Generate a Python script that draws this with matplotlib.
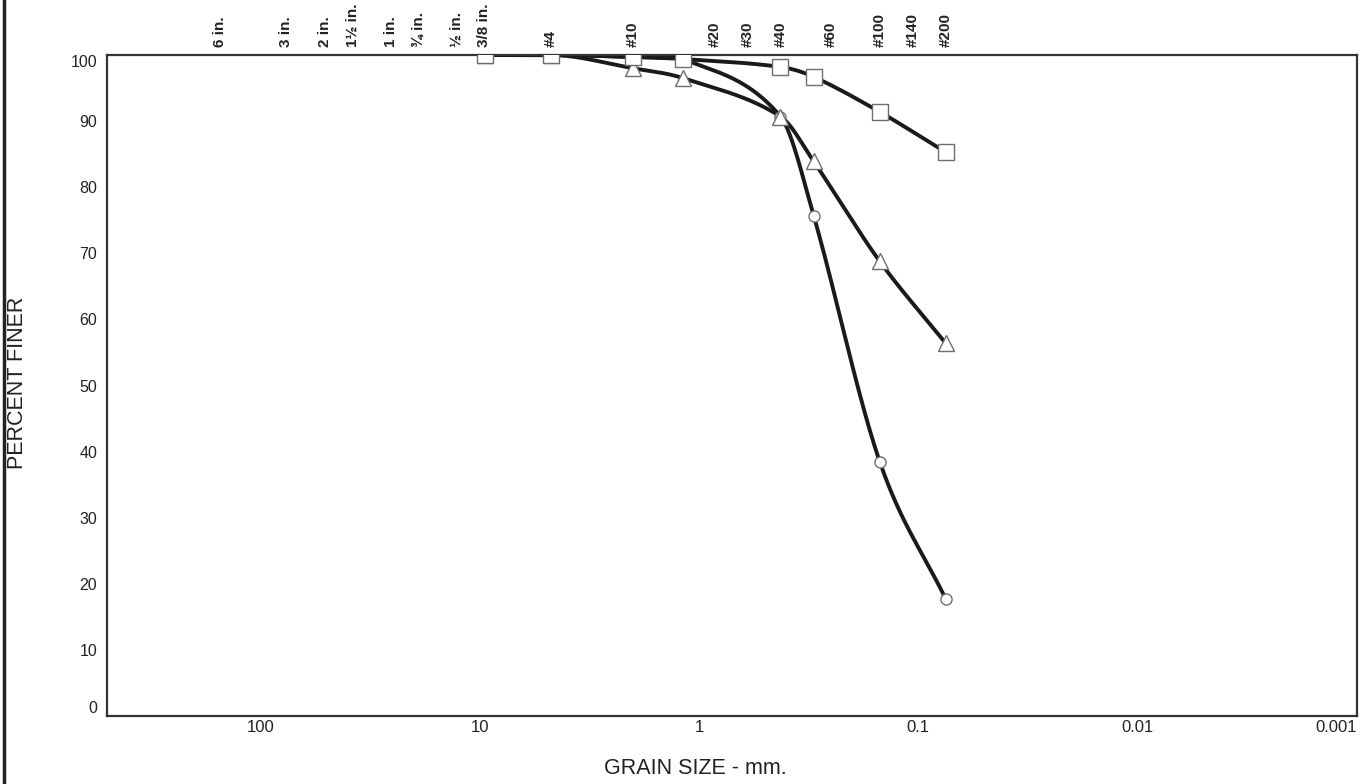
"""
Curva granulométrica (percentual passante x diâmetro dos grãos) de três amostras.
"""
import matplotlib.pyplot as plt
import numpy as np
from matplotlib.lines import Line2D

# Aberturas das peneiras (mm) e percentual passante de cada amostra
diametro = [9.5, 4.75, 2.0, 1.18, 0.425, 0.3, 0.15, 0.075]
passante_quadrado = [100.0, 100.0, 99.7, 99.4, 98.2, 96.7, 91.4, 85.3]
passante_triangulo = [100.0, 100.0, 98.0, 96.5, 90.7, 83.9, 68.8, 56.4]
passante_circulo = [100.0, 100.0, 99.7, 99.4, 90.7, 75.7, 38.5, 17.7]

# Peneiras indicadas no topo do gráfico
peneira_nome = ["6 in.", "3 in.", "2 in.", "1½ in.", "1 in.", "¾ in.", "½ in.",
                "3/8 in.", "#4", "#10", "#20", "#30", "#40", "#60", "#100",
                "#140", "#200"]
peneira_mm = [152.4, 76.2, 50.8, 38.1, 25.4, 19.05, 12.7, 9.525, 4.75, 2.0,
              0.85, 0.6, 0.425, 0.25, 0.15, 0.106, 0.075]

x_ticks = [100, 10, 1, 0.1, 0.01, 0.001]
x_ticklabels = ["100", "10", "1", "0.1", "0.01", "0.001"]
y_ticks = list(range(0, 101, 10))

FONTE = ["Liberation Sans", "DejaVu Sans"]
COR_TEXTO = "#222222"


def suaviza(x, y, xs):
    """Spline cúbica de Hermite com tangentes por diferença central."""
    x = np.asarray(x, float)
    y = np.asarray(y, float)
    h = np.diff(x)
    d = np.diff(y) / h
    n = len(x)
    m = np.zeros(n)
    m[0], m[-1] = d[0], d[-1]
    for k in range(1, n - 1):
        if d[k - 1] * d[k] > 0:
            m[k] = (y[k + 1] - y[k - 1]) / (x[k + 1] - x[k - 1])
    idx = np.clip(np.searchsorted(x, xs) - 1, 0, n - 2)
    t = (xs - x[idx]) / h[idx]
    h00 = 2 * t**3 - 3 * t**2 + 1
    h10 = t**3 - 2 * t**2 + t
    h01 = -2 * t**3 + 3 * t**2
    h11 = t**3 - t**2
    ys = (h00 * y[idx] + h10 * h[idx] * m[idx]
          + h01 * y[idx + 1] + h11 * h[idx] * m[idx + 1])
    return np.minimum(ys, 100.0)


fig = plt.figure(figsize=(13.69, 7.84), dpi=100)
ax = fig.add_axes([0.0782, 0.0867, 0.9130, 0.8431])
ax.set_xscale("log")
ax.set_xlim(500, 0.001)
ax.set_ylim(0, 100)

series = [
    (passante_circulo, "o", 8),
    (passante_triangulo, "^", 11),
    (passante_quadrado, "s", 11),
]

# linhas primeiro, marcadores por cima (quadrados no topo)
u = -np.log10(diametro)
us = np.linspace(u[0], u[-1], 400)
for dados, _, _ in series:
    ax.plot(10 ** (-us), suaviza(u, dados, us), color="#1a1a1a", lw=2.8,
            solid_capstyle="round", zorder=2)
for i, (dados, marcador, tam) in enumerate(series):
    ax.plot(diametro, dados, linestyle="none", marker=marcador, ms=tam,
            mfc="white", mec="#6e6e6e", mew=1.0, zorder=3 + i)

for lado in ax.spines.values():
    lado.set_color("#333333")
    lado.set_linewidth(1.6)

ax.tick_params(length=0)
ax.tick_params(axis="x", pad=3)
ax.tick_params(axis="y", pad=7)
ax.minorticks_off()
ax.set_xticks(x_ticks)
ax.set_xticklabels(x_ticklabels, fontsize=12, family=FONTE, color=COR_TEXTO)
ax.get_xticklabels()[-1].set_ha("right")
ax.set_yticks(y_ticks)
ax.set_yticklabels([str(v) for v in y_ticks], fontsize=11.5, family=FONTE,
                   color=COR_TEXTO)
ax.get_yticklabels()[-1].set_va("top")
ax.get_yticklabels()[0].set_va("bottom")

# nomes das peneiras no topo
for nome, d in zip(peneira_nome, peneira_mm):
    ax.text(d, 1.012, nome, transform=ax.get_xaxis_transform(), rotation=90,
            ha="center", va="bottom", fontsize=11, weight="bold",
            family=FONTE, color=COR_TEXTO)

fig.text(695 / 1369, 1 - 769 / 784, "GRAIN SIZE - mm.", ha="center",
         va="center", fontsize=15.5, family=FONTE, color=COR_TEXTO)
fig.text(18 / 1369, 1 - 383 / 784, "PERCENT FINER", ha="center", va="center",
         rotation=90, fontsize=15.5, family=FONTE, color=COR_TEXTO)

# borda esquerda da folha
fig.add_artist(Line2D([4 / 1369, 4 / 1369], [0, 1], color=COR_TEXTO, lw=2.5))

fig.savefig("out.png", dpi=100)
